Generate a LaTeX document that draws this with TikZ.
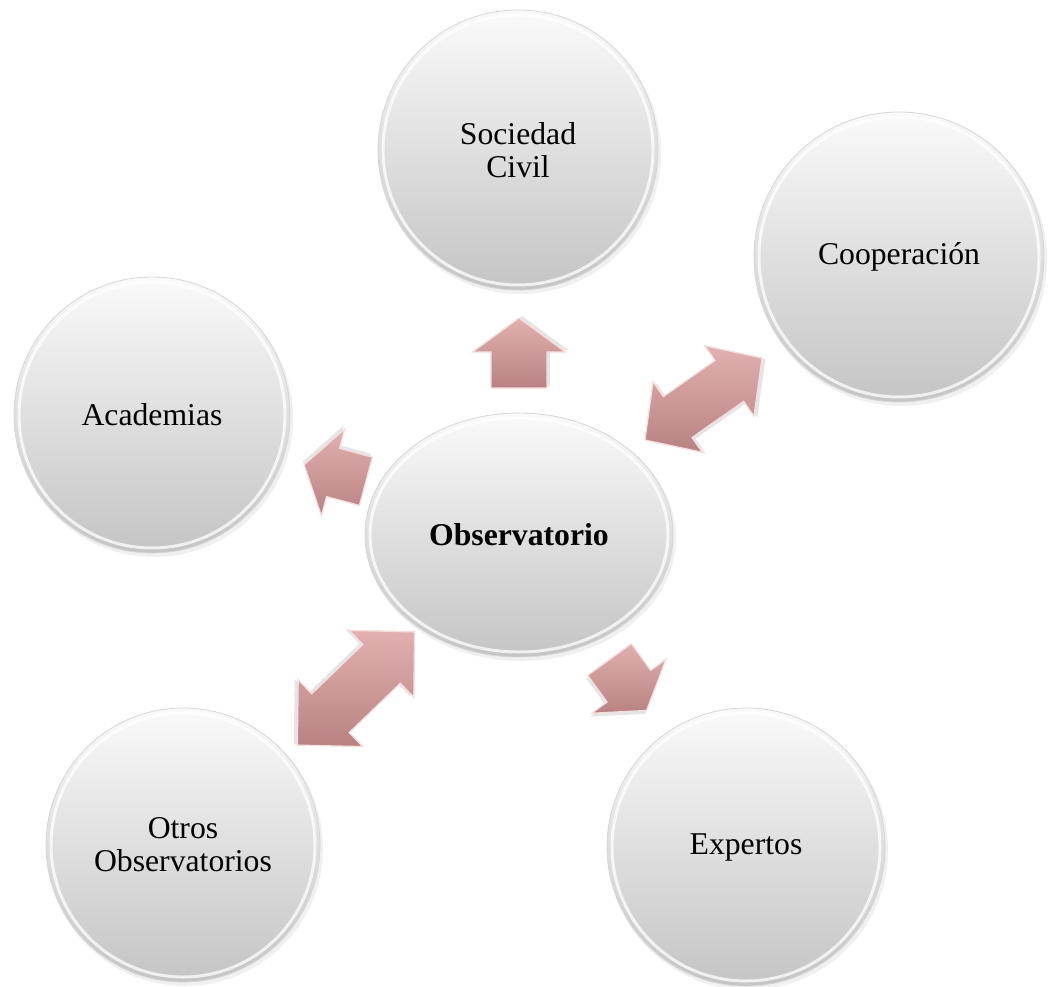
\documentclass[tikz,border=0pt]{standalone}
\usepackage{fontspec}
\setmainfont{Liberation Serif}
\usetikzlibrary{shapes.geometric,calc}
\definecolor{arrTop}{HTML}{E2B0B0}
\definecolor{arrBot}{HTML}{B88282}
\definecolor{arrEdge}{HTML}{F5DEDE}
\newcommand\singlearrow[6]{% center, screen angle, L, h, H, s
  \begin{scope}[shift={(#1)}, rotate=-#2]
    \fill[black, opacity=0.10, shift={(2,3)}]
      (-#3/2,-#6) -- (#3/2-#4,-#6) -- (#3/2-#4,-#5) -- (#3/2,0) -- (#3/2-#4,#5) -- (#3/2-#4,#6) -- (-#3/2,#6) -- cycle;
    \path[arrowfill]
      (-#3/2,-#6) -- (#3/2-#4,-#6) -- (#3/2-#4,-#5) -- (#3/2,0) -- (#3/2-#4,#5) -- (#3/2-#4,#6) -- (-#3/2,#6) -- cycle;
  \end{scope}}
\newcommand\doublearrow[6]{% center, screen angle, L, h, H, s
  \begin{scope}[shift={(#1)}, rotate=-#2]
    \fill[black, opacity=0.10, shift={(2,3)}]
      (-#3/2,0) -- (-#3/2+#4,-#5) -- (-#3/2+#4,-#6) -- (#3/2-#4,-#6) -- (#3/2-#4,-#5) -- (#3/2,0) -- (#3/2-#4,#5) -- (#3/2-#4,#6) -- (-#3/2+#4,#6) -- (-#3/2+#4,#5) -- cycle;
    \path[arrowfill]
      (-#3/2,0) -- (-#3/2+#4,-#5) -- (-#3/2+#4,-#6) -- (#3/2-#4,-#6) -- (#3/2-#4,-#5) -- (#3/2,0) -- (#3/2-#4,#5) -- (#3/2-#4,#6) -- (-#3/2+#4,#6) -- (-#3/2+#4,#5) -- cycle;
  \end{scope}}
\begin{document}
\begin{tikzpicture}[x=1pt,y=-1pt,
  bubble/.style={circle, minimum size=#1, inner sep=0pt, align=center,
    top color=white!98!black, middle color=black!8, bottom color=black!23,
    draw=black!16, line width=0.8pt,
    font=\fontsize{31.7}{33}\selectfont},
  rim/.style={draw=white, line width=3pt, opacity=0.75},
  shadowfill/.style={fill=black, opacity=0.06},
  arrowfill/.style={top color=arrTop, bottom color=arrBot, draw=arrEdge, line width=1.3pt, line join=miter}]
\useasboundingbox (0,0) rectangle (1049,987);
% soft shadows
\fill[shadowfill] (520,153) circle (141);
\fill[shadowfill] (901,260) circle (146);
\fill[shadowfill] (154,418) circle (139);
\fill[shadowfill] (521,538) ellipse (155 and 123);
\fill[shadowfill] (185,848) circle (138);
\fill[shadowfill] (748,850) circle (140);
% bubbles
\node[bubble=280pt] (soc) at (518,150) {Sociedad\\Civil};
\node[bubble=290pt] (coop) at (899,257) {Cooperación};
\node[bubble=276pt] (acad) at (152,415) {Academias};
\node[bubble=274pt] (otros) at (183,845) {Otros\\Observatorios};
\node[bubble=278pt] (exp) at (746,847) {Expertos};
\node[bubble=0pt, ellipse, minimum width=308pt, minimum height=244pt] (obs) at (519,535) {\bfseries Observatorio};
% bevel rims
\draw[rim] (soc.center) circle (135);
\draw[rim] (coop.center) circle (140);
\draw[rim] (acad.center) circle (133);
\draw[rim] (otros.center) circle (132);
\draw[rim] (exp.center) circle (134);
\draw[rim] (obs.center) ellipse (149 and 117);
% arrow anchor coordinates
\coordinate (a1) at (519,353);
\coordinate (a2) at (335,473);
\coordinate (a3) at (628,685);
\coordinate (a4) at (703.5,399);
\coordinate (a5) at (356,688.5);
\singlearrow{a1}{-90}{70}{34}{46.5}{28}
\singlearrow{a2}{195}{64}{30}{45}{25}
\singlearrow{a3}{54}{63}{30}{46}{27}
\doublearrow{a4}{-35}{143}{40}{43}{25}
\doublearrow{a5}{136}{163}{46}{46.5}{27}
\end{tikzpicture}
\end{document}
